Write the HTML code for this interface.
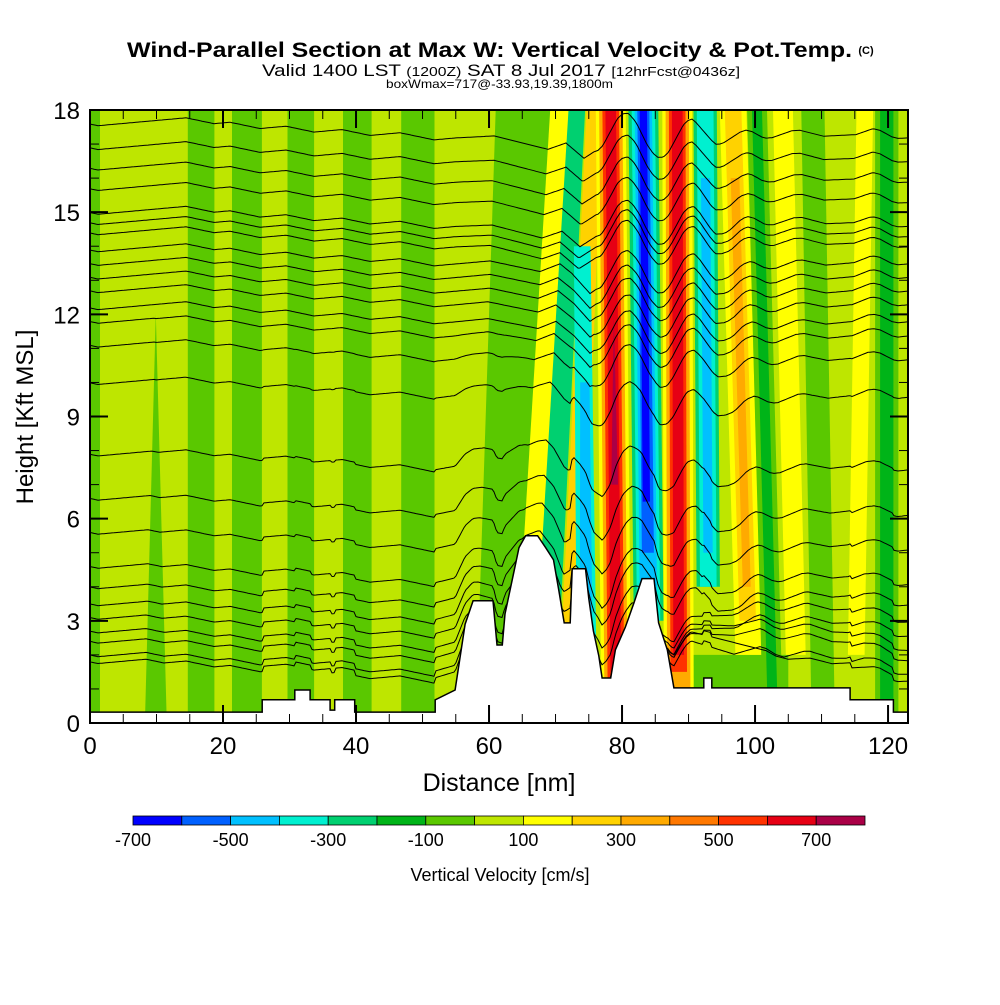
<!DOCTYPE html>
<html><head><meta charset="utf-8">
<style>
html,body{margin:0;padding:0;background:#fff;}
svg text{font-family:"Liberation Sans",sans-serif;}
</style></head>
<body>
<svg id="chart" width="1000" height="1000" viewBox="0 0 1000 1000" xmlns="http://www.w3.org/2000/svg">
<defs><clipPath id="plotclip"><rect x="90" y="110" width="818" height="613"/></clipPath></defs>
<text x="127" y="57" textLength="725" lengthAdjust="spacingAndGlyphs" font-size="21" font-weight="bold">Wind-Parallel Section at Max W: Vertical Velocity &amp; Pot.Temp.</text>
<text x="866" y="54" text-anchor="middle" font-size="11" font-weight="bold">(C)</text>
<text x="262" y="76" textLength="478" lengthAdjust="spacingAndGlyphs" font-size="17">Valid 1400 LST <tspan font-size="13">(1200Z)</tspan> SAT 8 Jul 2017 <tspan font-size="13">[12hrFcst@0436z]</tspan></text>
<text x="386" y="88" textLength="227" lengthAdjust="spacingAndGlyphs" font-size="12">boxWmax=717@-33.93,19.39,1800m</text>
<g id="field" clip-path="url(#plotclip)"></g>
<g id="contours" clip-path="url(#plotclip)"></g>
<g id="terrain" clip-path="url(#plotclip)"></g>
<rect x="90" y="110" width="818" height="613" fill="none" stroke="#000" stroke-width="2"/>
<g id="axes"></g>
<text transform="translate(33,417) rotate(-90)" text-anchor="middle" font-size="24">Height [Kft MSL]</text>
<text x="499" y="791" text-anchor="middle" font-size="25">Distance [nm]</text>
<g id="colorbar"></g>
<text x="500" y="881" text-anchor="middle" font-size="18">Vertical Velocity [cm/s]</text>
</svg>
<script>
// ---- data ----
const xTicks = [0,20,40,60,80,100,120];
const yTicks = [0,3,6,9,12,15,18];
const cbLabels = [-700,-500,-300,-100,100,300,500,700];
const cbColors = ["#0000ff","#0060ff","#00c0ff","#00f0d0","#00d070","#00b418","#5ac800","#bee600","#ffff00","#ffd200","#ffaa00","#ff7800","#ff3200","#e60014","#aa0046"];
// stripes of vertical velocity (cm/s): value, x at 18kft, x at 3kft (nm), width top/bottom (nm), z range (kft)
const stripeVal  = [-50,-50,-50,-50,-50,-50,-50, -50,-50, 150,-250,250,-350,-450, 150,350,550,650,750, -250,-350,-450,-550,-650, 150,350,550,650, -250,-350,-450, 150,250,350, -50,-150, 150, -50, 150, -50,-150];
const stripeXTop = [0.75,16.7,23.6,31.7,40.2,49.3,9.9, 96,67, 70.7,73.2,75.9,73.8,74.2, 78.3,78.3,78.3,78.3,78.6, 83.2,83.2,83.2,83.2,83.2, 88.3,88.3,88.3,88.3, 92.5,92.5,92.5, 96.7,96.7,96.7, 100.3,100.3, 104.2, 108.7, 116.5, 119.8,119.8];
const stripeXBot = [0.75,16.7,23.6,31.7,40.2,49.3,9.9, 96,62, 66,69,72.5,74.6,74.6, 79,79,79,79,79, 84,84,84,84,83.8, 88.5,88.5,88.5,88.5, 93,93,93, 98.9,98.9,98.9, 102.3,102.3, 106, 110, 115.3, 119.8,119.8];
const stripeWTop = [1.5,4,4.5,4,4.3,5,0, 18,12, 3,2.5,2.5,2.5,1.4, 4.5,3.5,2.5,1.6,0, 4.5,3.5,2.6,1.8,1.1, 4.5,3.5,2.5,1.6, 3.5,2.5,1.4, 4,2.5,1.3, 3,1.5, 3, 3.5, 2.5, 3.5,2];
const stripeWBot = [1.5,4,4.5,4,4.3,5,3.3, 18,6, 3,3.5,3,3,2, 4.5,3.5,2.5,1.6,1.0, 4.5,3.5,2.6,1.8,1.1, 4.5,3.5,2.5,1.6, 3.5,2.5,1.4, 4,2.5,1.2, 3,1.5, 3, 3.5, 2.5, 3.5,2];
const stripeZBot = [0,0,0,0,0,0,0, 0,0, 2,2,2,1.5,1.5, 1,1,1.2,1.5,7, 3,3,3.5,5,6.5, 1,1,1.5,2, 4,4,5, 2,3,4, 0,1, 2, 0, 2, 0,0.5];
const stripeZTop = [18,18,18,18,18,18,12, 2,18, 18,18,18,14,10, 18,18,18,18,12, 18,18,18,18,18, 18,18,18,18, 18,18,16, 18,18,16, 18,18, 18, 18, 18, 18,18];
// potential temperature contour levels (kft at left edge)
const thetaLevels = [17.6,16.9,16.3,15.7,15.0,14.7,14.4,13.9,13.5,13.1,12.7,12.2,11.8,11.1,10.0,7.9,6.6,5.6,4.6,4.0,3.5,3.1,2.7,2.4,2.0,1.8];
// terrain profile
const terrDist = [0,25.9,25.9,30.8,30.8,33.1,33.1,36.1,36.1,36.8,36.8,39.8,39.8,51.9,51.9,54.9,56.4,57.6,60.6,61.2,62.0,62.4,63.9,64.5,65.5,67.3,68.5,69.7,70.5,71.3,72.2,72.5,74.5,75.0,75.7,76.5,77.0,78.3,79,80.5,81.8,83,84.8,85.5,86.8,87.8,92.3,92.3,93.5,93.5,114.3,114.3,120.8,120.8,123];
const terrHgt  = [0.32,0.32,0.68,0.68,0.97,0.97,0.68,0.68,0.38,0.38,0.68,0.68,0.32,0.32,0.68,0.97,2.9,3.59,3.59,2.29,2.29,3.2,4.59,5.15,5.5,5.5,5.15,4.79,3.88,2.94,2.94,4.53,4.53,3.65,2.7,1.97,1.32,1.32,2.15,2.82,3.53,4.24,4.24,2.94,2.15,1.03,1.03,1.32,1.32,1.03,1.03,0.68,0.68,0.32,0.32];

// ---- scales ----
const X0=90, X1=908, Y0=723, Y1=110, XMAX=123, ZMAX=18;
function sx(d){return X0+(X1-X0)*d/XMAX;}
function sy(z){return Y0-(Y0-Y1)*z/ZMAX;}
function colorOf(v){let i=Math.floor((v+700)/100);i=Math.max(0,Math.min(14,i));return cbColors[i];}
const NS="http://www.w3.org/2000/svg";
function mk(tag,attrs,parent){const e=document.createElementNS(NS,tag);for(const k in attrs)e.setAttribute(k,attrs[k]);parent.appendChild(e);return e;}

// ---- field ----
const field=document.getElementById('field');
const base=mk('rect',{x:X0,y:Y1,width:X1-X0,height:Y0-Y1,fill:colorOf(50)},field);


function cAt(i,z){return stripeXBot[i]+(stripeXTop[i]-stripeXBot[i])*(z-3)/15;}
function wAt(i,z){const t=(z-stripeZBot[i])/(stripeZTop[i]-stripeZBot[i]);return stripeWBot[i]+(stripeWTop[i]-stripeWBot[i])*t;}
for(let i=0;i<stripeVal.length;i++){
  const zb=stripeZBot[i], zt=stripeZTop[i];
  const cb=cAt(i,zb), ct=cAt(i,zt), wb=wAt(i,zb)/2, wt=wAt(i,zt)/2;
  const pts=[[cb-wb,zb],[cb+wb,zb],[ct+wt,zt],[ct-wt,zt]].map(p=>sx(p[0]).toFixed(1)+','+sy(p[1]).toFixed(1)).join(' ');
  const p=mk('polygon',{points:pts,fill:colorOf(stripeVal[i])},field);
  
  
}
function fieldAt(d,z){
  let v=50;
  for(let i=0;i<stripeVal.length;i++){
    if(z<stripeZBot[i]||z>stripeZTop[i])continue;
    const c=cAt(i,z), w=wAt(i,z)/2;
    if(d>=c-w&&d<=c+w)v=stripeVal[i];
  }
  return v;
}
function terrAt(d){
  for(let i=1;i<terrDist.length;i++){
    if(d<=terrDist[i]){const a=terrDist[i-1],b=terrDist[i];const t=b>a?(d-a)/(b-a):1;return terrHgt[i-1]+(terrHgt[i]-terrHgt[i-1])*t;}
  }
  return terrHgt[terrHgt.length-1];
}

// ---- contours ----
const cg=document.getElementById('contours');
const K=0.003;
thetaLevels.forEach(L=>{
  const xs=[],eta=[];let cum=0;
  for(let px=X0;px<=X1;px+=2){
    const d=(px-X0)/(X1-X0)*XMAX;
    cum+= (fieldAt(d,L)-20)*2;
    xs.push(px);eta.push(cum*K);
  }
  const i55=Math.round((sx(55)-X0)/2), n=xs.length-1;
  const e55=eta[i55], end=eta[n];
  const pts=xs.map((px,j)=>{
    const d=(px-X0)/(X1-X0)*XMAX;
    let e=eta[j];
    if(j>i55)e-= (end-e55)*(j-i55)/(n-i55);
    e+= Math.max(0,terrAt(d)-0.3)*34*Math.max(0,1-L/12)*0.5;
    return px+','+(sy(L)-e).toFixed(1);
  }).join(' ');
  const pl=mk('polyline',{points:pts,fill:'none',stroke:'#000','stroke-width':1},cg);
  
  
});

// ---- terrain ----
const tg=document.getElementById('terrain');
let tp=terrDist.map((d,i)=>sx(d).toFixed(1)+','+sy(terrHgt[i]).toFixed(1));
tp.push(X1+','+(Y0+2));tp.push(X0+','+(Y0+2));
const terr=mk('polygon',{points:tp.join(' '),fill:'#fff',stroke:'#000','stroke-width':1.5},tg);



// ---- axes ----
const ax=document.getElementById('axes');
for(let d=0;d<=XMAX;d+=5){
  const major=d%20===0, L=major?18:9;
  mk('line',{x1:sx(d),x2:sx(d),y1:Y0,y2:Y0-L,stroke:'#000','stroke-width':major?2:1},ax);
  mk('line',{x1:sx(d),x2:sx(d),y1:Y1,y2:Y1+L,stroke:'#000','stroke-width':major?2:1},ax);
}
for(let z=0;z<=ZMAX;z+=1){
  const major=z%3===0, L=major?18:9;
  mk('line',{x1:X0,x2:X0+L,y1:sy(z),y2:sy(z),stroke:'#000','stroke-width':major?2:1},ax);
  mk('line',{x1:X1,x2:X1-L,y1:sy(z),y2:sy(z),stroke:'#000','stroke-width':major?2:1},ax);
}
xTicks.forEach(t=>{
  const e=mk('text',{x:sx(t),y:Y0+31,'text-anchor':'middle','font-size':24},ax);
  e.textContent=t;
  
  
});
yTicks.forEach(t=>{
  const e=mk('text',{x:80,y:sy(t)+9,'text-anchor':'end','font-size':24},ax);
  e.textContent=t;
  
  
});

// ---- colorbar ----
const cbg=document.getElementById('colorbar');
const CB0=133, CBW=732/15;
cbColors.forEach((c,i)=>{
  const r=mk('rect',{x:CB0+i*CBW,y:816,width:CBW,height:9,fill:c,stroke:'#000','stroke-width':0.8},cbg);
  
  
});
cbLabels.forEach(v=>{
  const e=mk('text',{x:CB0+(v+700)/100*CBW,y:846,'text-anchor':'middle','font-size':18},cbg);
  e.textContent=v;
  
  
});
</script>
</body></html>
